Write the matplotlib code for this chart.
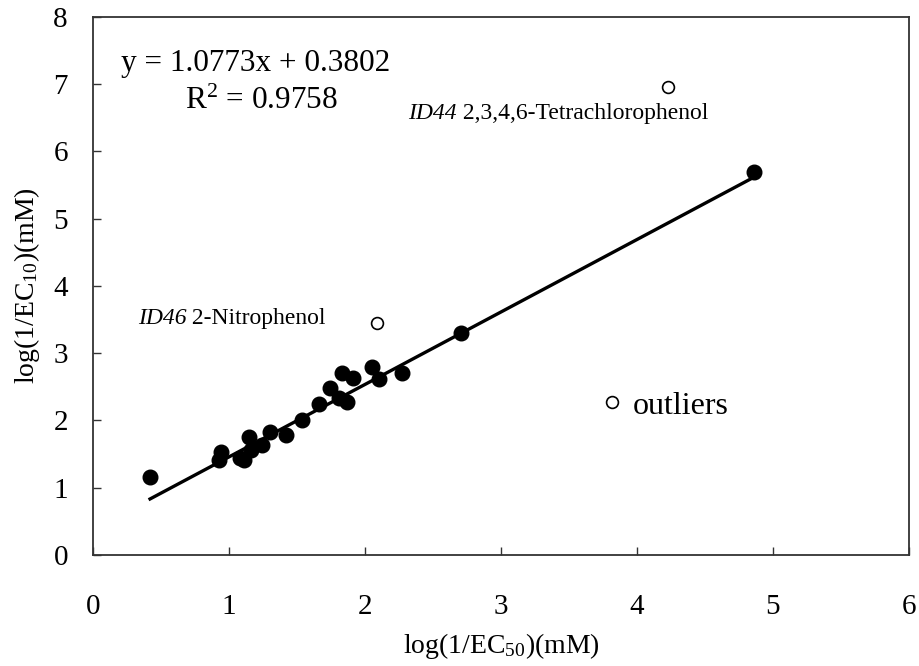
import numpy as np
import matplotlib
matplotlib.use("Agg")
import matplotlib.pyplot as plt

plt.rcParams['font.family'] = ['Liberation Serif', 'DejaVu Serif']
plt.rcParams['mathtext.fontset'] = 'custom'
plt.rcParams['mathtext.rm'] = 'Liberation Serif'
plt.rcParams['mathtext.it'] = 'Liberation Serif:italic'

# fitted compounds (filled)
x_fit = [0.42, 0.94, 0.93, 1.08, 1.11, 1.15, 1.16, 1.24, 1.30, 1.42, 1.54,
         1.66, 1.74, 1.81, 1.87, 1.83, 1.91, 2.05, 2.10, 2.27, 2.71, 4.86]
y_fit = [1.16, 1.53, 1.41, 1.44, 1.41, 1.75, 1.56, 1.63, 1.83, 1.78, 2.00,
         2.25, 2.48, 2.33, 2.27, 2.71, 2.63, 2.80, 2.61, 2.70, 3.30, 5.70]

# outliers (open)
x_out = [4.23, 2.09]
y_out = [6.96, 3.45]
legend_pt = (3.82, 2.27)

slope, intercept = 1.0773, 0.3802

fig = plt.figure(figsize=(9.2, 6.66), dpi=100)
ax = fig.add_axes([0.101, 0.1667, 0.887, 0.808])

xl = np.array([min(x_fit), max(x_fit)])
ax.plot(xl, slope * xl + intercept, color='black', lw=2.4, zorder=2)
ax.plot(x_fit, y_fit, 'o', color='black', ms=10.5, zorder=3)
ax.plot(x_out, y_out, 'o', mfc='white', mec='black', mew=1.2, ms=8.5, zorder=3)
ax.plot(*legend_pt, 'o', mfc='white', mec='black', mew=1.2, ms=8.5)

ax.text(0.21, 7.30, 'y = 1.0773x + 0.3802', fontsize=22.5, va='center')
ax.text(0.68, 6.74, r'R$^{2}$ = 0.9758', fontsize=22.5, va='center')

# compound labels: italic ID then plain name
t1 = ax.text(2.32, 6.40, 'ID44', fontsize=17, style='italic', va='bottom')
ax.annotate(' 2,3,4,6-Tetrachlorophenol', xy=(1, 0), xycoords=t1,
            fontsize=17, va='bottom')
t2 = ax.text(0.33, 3.36, 'ID46', fontsize=17, style='italic', va='bottom')
ax.annotate(' 2-Nitrophenol', xy=(1, 0), xycoords=t2,
            fontsize=17, va='bottom')

ax.text(3.97, 2.20, 'outliers', fontsize=23, va='center')

ax.set_xlim(0, 6)
ax.set_ylim(0, 8)
ax.set_xticks(range(0, 7))
ax.set_yticks(range(0, 9))
ax.tick_params(direction='in', length=6, width=1, colors='#333333',
               labelcolor='black', labelsize=21)
ax.tick_params(axis='x', pad=28)
ax.tick_params(axis='y', pad=18)
for s in ax.spines.values():
    s.set_color('#333333')
    s.set_linewidth(1.3)

ax.set_xlabel(r'log(1/EC$_{50}$)(mM)', fontsize=20, labelpad=8)
ax.set_ylabel(r'log(1/EC$_{10}$)(mM)', fontsize=20, labelpad=8)

fig.savefig('out.png', dpi=100)
